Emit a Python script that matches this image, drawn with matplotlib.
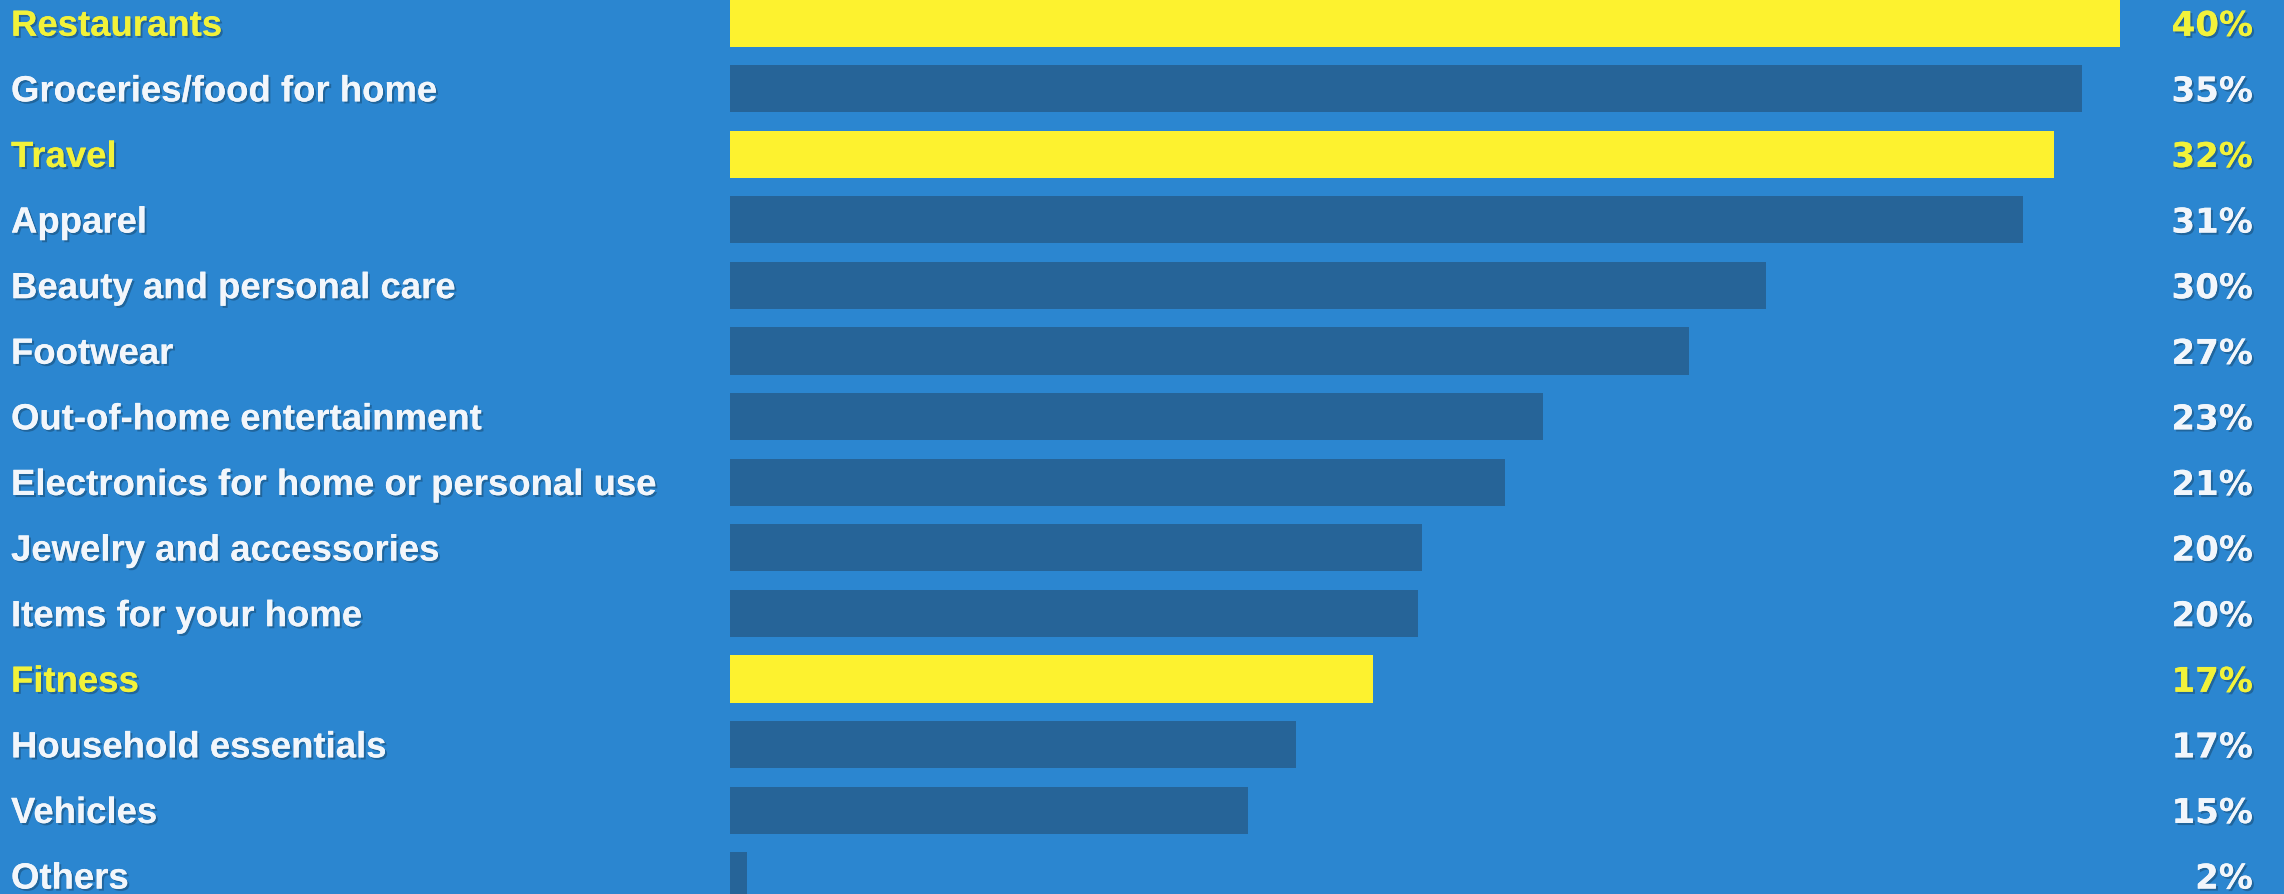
import matplotlib
matplotlib.use('Agg')
import matplotlib.pyplot as plt
import matplotlib.transforms as mtransforms
import matplotlib.patheffects as pe

## the data
categories = ['Restaurants', 'Groceries/food for home', 'Travel', 'Apparel',
              'Beauty and personal care', 'Footwear', 'Out-of-home entertainment',
              'Electronics for home or personal use', 'Jewelry and accessories',
              'Items for your home', 'Fitness', 'Household essentials',
              'Vehicles', 'Others']
# bar lengths as drawn in the picture (not quite proportional to the labels)
bar_values = [40, 38.9, 38.1, 37.2, 29.8, 27.6, 23.4, 22.3, 19.9, 19.8,
              18.5, 16.3, 14.9, 0.5]
pct_labels = ['40%', '35%', '32%', '31%', '30%', '27%', '23%', '21%', '20%',
              '20%', '17%', '17%', '15%', '2%']
highlight = ['Restaurants', 'Travel', 'Fitness']

bg = '#2B86D0'
bar_dark = '#266498'
yellow_bar = '#FDF22F'
yellow_txt = '#F2F23A'
white_txt = '#F2F6FB'

W, H = 2284, 894
fig = plt.figure(figsize=(W / 100, H / 100), dpi=100)
fig.patch.set_facecolor(bg)

x0 = 730      # pixel where bars start
px_per = 34.75
ax = fig.add_axes([x0 / W, 0, 40 * px_per / W, 1])
ax.set_facecolor(bg)

pitch = 65.6
top = 23
ax.set_xlim(0, 40)
ax.set_ylim((H - top) / pitch, -top / pitch)
ax.axis('off')

ind = list(range(len(categories)))
colors = [yellow_bar if c in highlight else bar_dark for c in categories]
ax.barh(ind, bar_values, height=0.72, color=colors, left=0)

shadow = [pe.withSimplePatchShadow(offset=(1.5, -1.5), shadow_rgbFace='#1a4f7a', alpha=0.6), pe.Normal()]
trans = mtransforms.blended_transform_factory(fig.transFigure, ax.transData)
for i, c in enumerate(categories):
    col = yellow_txt if c in highlight else white_txt
    ax.text(11 / W, i + 0.05, c, transform=trans, ha='left', va='center',
            fontsize=26.3, fontweight='bold', family='Liberation Sans',
            color=col, path_effects=shadow, clip_on=False)
    ax.text(2253 / W, i + 0.05, pct_labels[i], transform=trans, ha='right', va='center',
            fontsize=24.5, fontweight='bold', family='DejaVu Sans',
            color=col, path_effects=shadow, clip_on=False)

fig.savefig('out.png', dpi=100, facecolor=bg)
